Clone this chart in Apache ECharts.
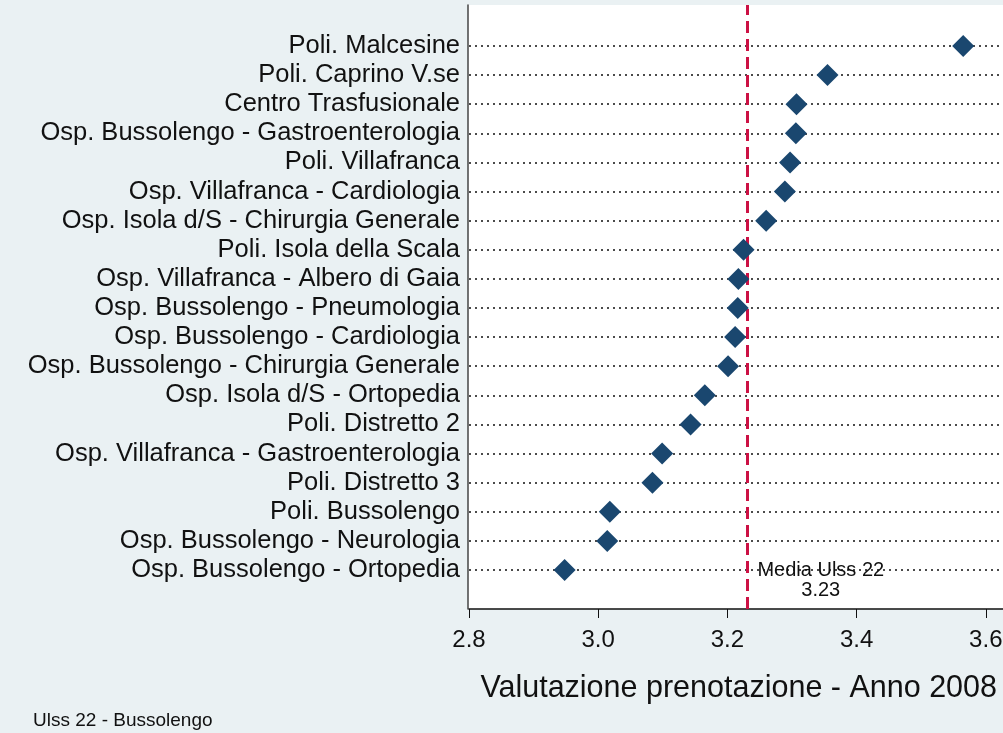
<!DOCTYPE html>
<html>
<head>
<meta charset="utf-8">
<script src="https://cdn.jsdelivr.net/npm/echarts@6/dist/echarts.min.js"></script>
<style>
html,body{margin:0;padding:0;background:#eaf1f3;}
#c{width:1003px;height:733px;}
</style>
</head>
<body>
<div id="c"></div>
<script>
const categories = [
  "Poli. Malcesine",
  "Poli. Caprino V.se",
  "Centro Trasfusionale",
  "Osp. Bussolengo - Gastroenterologia",
  "Poli. Villafranca",
  "Osp. Villafranca - Cardiologia",
  "Osp. Isola d/S - Chirurgia Generale",
  "Poli. Isola della Scala",
  "Osp. Villafranca - Albero di Gaia",
  "Osp. Bussolengo - Pneumologia",
  "Osp. Bussolengo - Cardiologia",
  "Osp. Bussolengo - Chirurgia Generale",
  "Osp. Isola d/S - Ortopedia",
  "Poli. Distretto 2",
  "Osp. Villafranca - Gastroenterologia",
  "Poli. Distretto 3",
  "Poli. Bussolengo",
  "Osp. Bussolengo - Neurologia",
  "Osp. Bussolengo - Ortopedia"
];
const values = [3.565, 3.355, 3.307, 3.306, 3.297, 3.289, 3.260, 3.225, 3.217, 3.216, 3.212, 3.201, 3.165, 3.143, 3.099, 3.084, 3.018, 3.014, 2.948];
const meanValue = 3.23;
const meanLabel = "Media Ulss 22";
const xTicks = [2.8, 3.0, 3.2, 3.4, 3.6, 3.8];
const axisTitle = "Valutazione prenotazione - Anno 2008";
const footer = "Ulss 22 - Bussolengo";

const FONT = "'Liberation Sans', Arial, sans-serif";
const chart = echarts.init(document.getElementById('c'));
const xMin = xTicks[0], xMax = xTicks[xTicks.length - 1];

chart.setOption({
  backgroundColor: '#eaf1f3',
  animation: false,
  textStyle: { fontFamily: FONT },
  title: [
    { text: axisTitle, right: 6, top: 673, padding: 0, textStyle: { fontFamily: FONT, fontSize: 30.5, fontWeight: 'normal', color: '#111' } },
    { text: footer, left: 33, top: 711, padding: 0, textStyle: { fontFamily: FONT, fontSize: 19, fontWeight: 'normal', color: '#111' } }
  ],
  grid: [
    { left: 469, top: 46, width: 646, height: 524, show: false, outerBoundsMode: 'none', containLabel: false },
    { left: 468, top: 5, width: 647, height: 604, show: true, backgroundColor: '#ffffff', borderWidth: 0, outerBoundsMode: 'none', containLabel: false }
  ],
  xAxis: [
    { type: 'value', gridIndex: 0, min: xMin, max: xMax, show: false },
    { type: 'value', gridIndex: 1, min: xMin - 1 / 646, max: xMax, interval: 0.2, show: false },
    { type: 'value', gridIndex: 0, min: xMin, max: xMax, interval: 0.2, position: 'bottom', offset: 39,
      axisLine: { show: true, onZero: false, lineStyle: { color: '#111', width: 1.5 } },
      axisTick: { show: true, length: 9, lineStyle: { color: '#111', width: 1 } },
      axisLabel: { fontSize: 24, color: '#111', margin: 19, fontFamily: FONT, formatter: v => v.toFixed(1) },
      splitLine: { show: false } }
  ],
  yAxis: [
    { type: 'category', gridIndex: 0, data: categories, inverse: true, boundaryGap: false,
      axisLine: { show: false }, axisTick: { show: false },
      axisLabel: { fontSize: 25.5, color: '#111', margin: 9, fontFamily: FONT, interval: 0 },
      splitLine: { show: true, interval: 0, lineStyle: { color: '#111', type: [2, 4], width: 1.6 } } },
    { type: 'value', gridIndex: 1, min: 0, max: 1, axisLabel: { show: false }, axisTick: { show: false },
      splitLine: { show: false },
      axisLine: { show: true, lineStyle: { color: '#444', width: 1.5 } } }
  ],
  series: [
    { type: 'scatter', xAxisIndex: 1, yAxisIndex: 1, data: [], silent: true,
      markLine: { silent: true, symbol: 'none', label: { show: false },
        lineStyle: { color: '#cc1144', width: 3, type: [12, 6] },
        data: [{ xAxis: meanValue }] } },
    { type: 'scatter', xAxisIndex: 0, yAxisIndex: 0, z: 5,
      symbol: 'diamond', symbolSize: 22,
      itemStyle: { color: '#1a476f', opacity: 1 },
      data: values.map((v, i) => [v, categories[i]]),
      markPoint: { symbol: 'circle', symbolSize: 0,
        label: { show: true, position: 'inside', offset: [74, 10], fontSize: 20, lineHeight: 20, color: '#111', fontFamily: FONT, align: 'center',
          formatter: meanLabel + '\n' + meanValue.toFixed(2) },
        data: [{ coord: [meanValue, categories[categories.length - 1]] }] } }
  ]
});
</script>
</body>
</html>
